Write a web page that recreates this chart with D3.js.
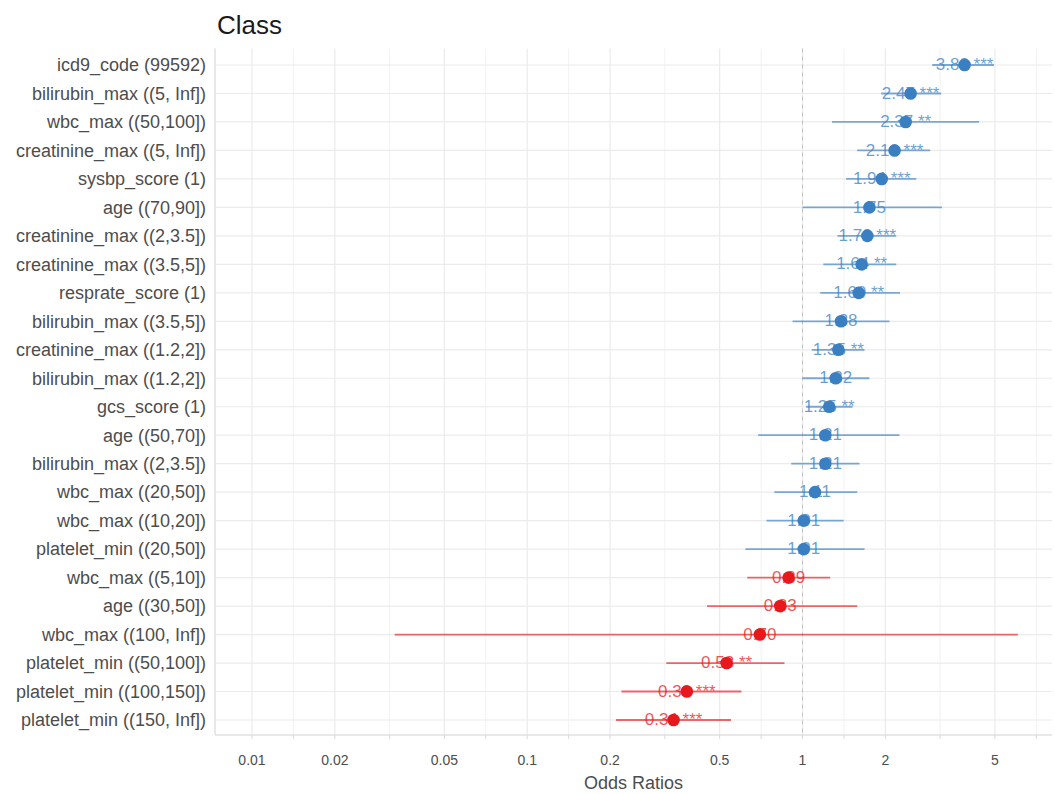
<!DOCTYPE html>
<html>
<head>
<meta charset="utf-8">
<script src="https://cdn.jsdelivr.net/npm/d3@7"></script>
<style>
  body { margin: 0; background: #fff; }
  text { font-family: "Liberation Sans", Arial, sans-serif; }
</style>
</head>
<body>
<script>
(function(d3) {

  // Terms, top to bottom
  var terms = [
    "icd9_code (99592)", "bilirubin_max ((5, Inf])", "wbc_max ((50,100])",
    "creatinine_max ((5, Inf])", "sysbp_score (1)", "age ((70,90])",
    "creatinine_max ((2,3.5])", "creatinine_max ((3.5,5])", "resprate_score (1)",
    "bilirubin_max ((3.5,5])", "creatinine_max ((1.2,2])", "bilirubin_max ((1.2,2])",
    "gcs_score (1)", "age ((50,70])", "bilirubin_max ((2,3.5])",
    "wbc_max ((20,50])", "wbc_max ((10,20])", "platelet_min ((20,50])",
    "wbc_max ((5,10])", "age ((30,50])", "wbc_max ((100, Inf])",
    "platelet_min ((50,100])", "platelet_min ((100,150])", "platelet_min ((150, Inf])"
  ];

  // Odds ratios and confidence bounds
  var estimates = [3.88, 2.47, 2.37, 2.16, 1.94, 1.75, 1.72, 1.64, 1.60, 1.38, 1.35, 1.32,
                   1.25, 1.21, 1.21, 1.11, 1.01, 1.01, 0.89, 0.83, 0.70, 0.53, 0.38, 0.34];
  var lower = [2.96, 1.93, 1.28, 1.58, 1.44, 1.00, 1.34, 1.19, 1.16, 0.92, 1.08, 1.00,
               1.03, 0.69, 0.91, 0.79, 0.74, 0.62, 0.63, 0.45, 0.033, 0.32, 0.22, 0.21];
  var upper = [4.96, 3.19, 4.38, 2.91, 2.59, 3.21, 2.19, 2.19, 2.26, 2.07, 1.68, 1.75,
               1.52, 2.25, 1.61, 1.58, 1.41, 1.68, 1.26, 1.58, 6.06, 0.86, 0.60, 0.55];
  var stars = ["***", "***", "**", "***", "***", "", "***", "**", "**", "", "**", "",
               "**", "", "", "", "", "", "", "", "", "**", "***", "***"];

  var xBreaks = [0.01, 0.02, 0.05, 0.1, 0.2, 0.5, 1, 2, 5];
  var xDomain = [0.00734, 8.06];

  var width = 1055, height = 794;
  var margin = {top: 48.5, right: 3, bottom: 57.5, left: 215};
  var panelBottom = 735;

  var blue = "#3a7fc1", red = "#e8191c";

  var svg = d3.select("body").append("svg")
    .attr("width", width)
    .attr("height", height);

  var x = d3.scaleLog()
    .domain(xDomain)
    .range([margin.left, width - margin.right]);

  var y = d3.scalePoint()
    .domain(terms)
    .range([margin.top, height - margin.bottom])
    .padding(0.58);

  // minor breaks sit halfway (in log space) between the major ones
  var ext = [0.005].concat(xBreaks, [10]);
  var minor = [];
  for (var i = 0; i < ext.length - 1; i++) {
    var m = Math.sqrt(ext[i] * ext[i + 1]);
    if (m > xDomain[0] && m < xDomain[1]) minor.push(m);
  }

  var grid = svg.append("g");
  grid.selectAll(".minor").data(minor).enter().append("line")
    .attr("x1", d => x(d)).attr("x2", d => x(d))
    .attr("y1", margin.top).attr("y2", panelBottom)
    .attr("stroke", "#f2f2f2").attr("stroke-width", 1);
  grid.selectAll(".major").data(xBreaks).enter().append("line")
    .attr("x1", d => x(d)).attr("x2", d => x(d))
    .attr("y1", margin.top).attr("y2", panelBottom)
    .attr("stroke", "#ebebeb").attr("stroke-width", 1.2);
  grid.selectAll(".hrow").data(terms).enter().append("line")
    .attr("x1", margin.left).attr("x2", width - margin.right)
    .attr("y1", d => y(d)).attr("y2", d => y(d))
    .attr("stroke", "#ebebeb").attr("stroke-width", 1.2);

  // axis lines
  svg.append("line")
    .attr("x1", margin.left).attr("x2", margin.left)
    .attr("y1", margin.top).attr("y2", panelBottom)
    .attr("stroke", "#e0e0e0").attr("stroke-width", 1.5);
  svg.append("line")
    .attr("x1", margin.left).attr("x2", width - margin.right)
    .attr("y1", panelBottom).attr("y2", panelBottom)
    .attr("stroke", "#e0e0e0").attr("stroke-width", 1.5);

  // x axis: ticks on majors and minors, labels on majors
  var xAxis = svg.append("g")
    .attr("transform", "translate(0," + panelBottom + ")");
  xAxis.selectAll(".tk").data(xBreaks.concat(minor)).enter().append("line")
    .attr("x1", d => x(d)).attr("x2", d => x(d))
    .attr("y1", 0).attr("y2", 4)
    .attr("stroke", "#d9d9d9");
  xAxis.selectAll(".lb").data(xBreaks).enter().append("text")
    .attr("x", d => x(d))
    .attr("y", 30)
    .attr("text-anchor", "middle")
    .attr("font-size", 14)
    .attr("fill", "#4d4d4d")
    .text(d => d3.format("~g")(d));

  svg.append("text")
    .attr("x", (margin.left + width - margin.right) / 2)
    .attr("y", 789)
    .attr("text-anchor", "middle")
    .attr("font-size", 18)
    .attr("fill", "#4d4d4d")
    .text("Odds Ratios");

  // y labels
  svg.append("g").selectAll("text").data(terms).enter().append("text")
    .attr("x", 206)
    .attr("y", d => y(d))
    .attr("dy", "0.35em")
    .attr("text-anchor", "end")
    .attr("font-size", 18)
    .attr("fill", "#4d4d4d")
    .text(d => d);

  // reference line at OR = 1
  svg.append("line")
    .attr("x1", x(1)).attr("x2", x(1))
    .attr("y1", margin.top).attr("y2", panelBottom)
    .attr("stroke", "#c4c4c4").attr("stroke-width", 1)
    .attr("stroke-dasharray", "4,4");

  var rows = terms.map(function(t, i) {
    return {term: t, est: estimates[i], lo: lower[i], hi: upper[i], sig: stars[i],
            color: estimates[i] >= 1 ? blue : red};
  });

  var g = svg.append("g").selectAll("g").data(rows).enter().append("g");

  g.append("line")
    .attr("x1", d => x(d.lo)).attr("x2", d => x(d.hi))
    .attr("y1", d => y(d.term)).attr("y2", d => y(d.term))
    .attr("stroke", d => d.color)
    .attr("stroke-opacity", 0.65)
    .attr("stroke-width", 1.8);

  g.append("circle")
    .attr("cx", d => x(d.est))
    .attr("cy", d => y(d.term))
    .attr("r", 6.3)
    .attr("fill", d => d.color);

  g.append("text")
    .attr("x", d => x(d.est))
    .attr("y", d => y(d.term))
    .attr("dy", "0.3em")
    .attr("text-anchor", "middle")
    .attr("font-size", 17)
    .attr("fill", d => d.color)
    .attr("fill-opacity", 0.75)
    .text(d => d3.format(".2f")(d.est) + (d.sig ? " " + d.sig : ""));

  // title
  svg.append("text")
    .attr("x", 217)
    .attr("y", 34)
    .attr("font-size", 26)
    .attr("fill", "#1a1a1a")
    .text("Class");

})(d3);
</script>
</body>
</html>
